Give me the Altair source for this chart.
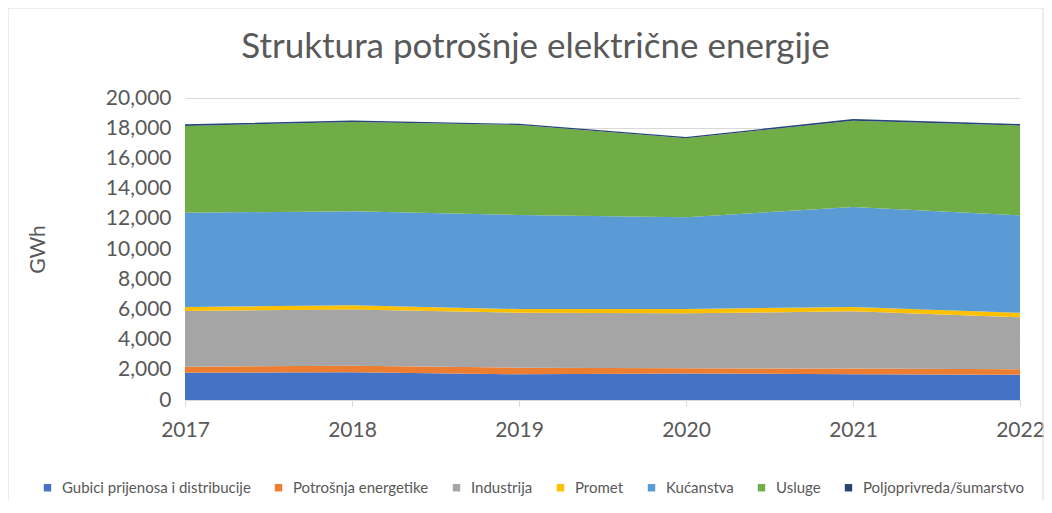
import altair as alt
import pandas as pd

years = [2017, 2018, 2019, 2020, 2021, 2022]
series = ["Gubici prijenosa i distribucije", "Potrošnja energetike", "Industrija",
          "Promet", "Kućanstva", "Usluge", "Poljoprivreda/šumarstvo"]
gubici = [1810, 1830, 1700, 1760, 1710, 1680]
energetika = [400, 430, 440, 340, 370, 350]
industrija = [3690, 3740, 3640, 3640, 3790, 3450]
promet = [260, 270, 240, 290, 290, 300]
kucanstva = [6240, 6230, 6230, 6070, 6620, 6450]
usluge = [5750, 5910, 5960, 5230, 5720, 5940]
poljoprivreda = [110, 100, 80, 80, 110, 110]
colors = ["#4472C4", "#ED7D31", "#A5A5A5", "#FFC000", "#5B9BD5", "#70AD47", "#264478"]

values = [gubici, energetika, industrija, promet, kucanstva, usluge, poljoprivreda]
rows = []
for i, (name, vals) in enumerate(zip(series, values)):
    for y, v in zip(years, vals):
        rows.append({"year": y, "series": name, "value": v, "idx": i})
df = pd.DataFrame(rows)

W, H = 835, 302

area = alt.Chart(df).mark_area(opacity=1).encode(
    x=alt.X("year:Q", scale=alt.Scale(domain=[2017, 2022], nice=False),
            axis=alt.Axis(values=years, format="d", title=None, grid=False,
                          labelFontSize=21, labelColor="#595959", labelPadding=13,
                          labelFlush=False,
                          tickColor="#d9d9d9", domainColor="#d9d9d9", tickSize=6,
                          labelFont="Lato")),
    y=alt.Y("value:Q", stack="zero", scale=alt.Scale(domain=[0, 20000], nice=False),
            axis=alt.Axis(values=list(range(0, 20001, 2000)), format=",d", title="GWh",
                          grid=True, gridColor="#d9d9d9", domain=False, ticks=False,
                          labelFontSize=21, labelColor="#595959", labelPadding=14,
                          titleFontSize=21, titleColor="#595959", titleFontWeight="normal",
                          titlePadding=57, labelFont="Lato", titleFont="Lato")),
    color=alt.Color("series:N", scale=alt.Scale(domain=series, range=colors),
                    legend=alt.Legend(title=None, orient="none", direction="horizontal",
                                      columns=7, legendX=-145, legendY=382,
                                      symbolType="square", symbolSize=55,
                                      labelFontSize=15, labelColor="#595959",
                                      labelLimit=400,
                                      labelFont="Lato", columnPadding=20, labelOffset=7)),
    order=alt.Order("idx:Q", sort="ascending"),
)

border = alt.Chart(pd.DataFrame({"a": [0]})).mark_rect(
    fill=None, stroke="#d9d9d9", strokeWidth=1, clip=False).encode(
    x=alt.value(-177), x2=alt.value(W + 23), y=alt.value(-90), y2=alt.value(H + 110))

chart = alt.layer(area, border).properties(
    width=W, height=H,
    title=alt.Title("Struktura potrošnje električne energije", fontSize=35,
                    font="Lato", fontWeight="normal", color="#595959",
                    anchor="middle", dx=-67, dy=87, offset=30),
    autosize=alt.AutoSizeParams(type="none"),
    padding={"left": 177, "top": 90, "right": 24, "bottom": 100},
).configure_view(stroke=None)

chart.save("out.html", embed_options={"renderer": "svg", "actions": False})
